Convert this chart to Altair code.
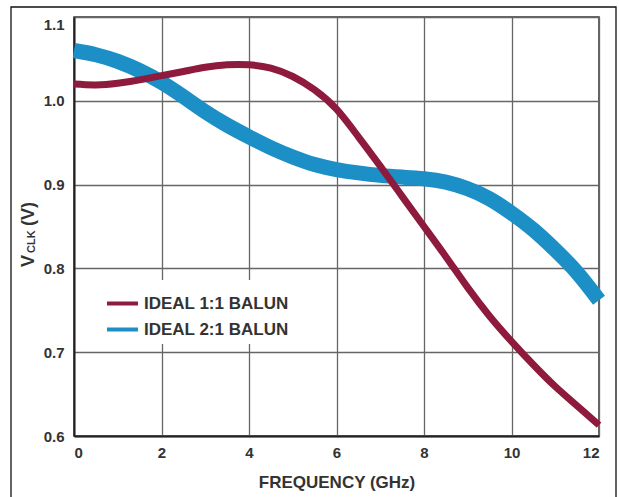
import altair as alt
import pandas as pd

freq = [0, 0.5, 1, 1.5, 2, 2.5, 3, 3.5, 4, 4.5, 5, 5.5, 6,
        6.5, 7, 7.5, 8, 8.5, 9, 9.5, 10, 10.5, 11, 11.5, 12]
v_balun_11 = [1.020, 1.019, 1.021, 1.025, 1.030, 1.035, 1.040, 1.043, 1.043, 1.039, 1.029, 1.013, 0.990,
              0.957, 0.922, 0.886, 0.850, 0.814, 0.777, 0.743, 0.713, 0.685, 0.659, 0.636, 0.613]
v_balun_21 = [1.060, 1.055, 1.047, 1.036, 1.022, 1.005, 0.987, 0.971, 0.957, 0.944, 0.933, 0.924, 0.918,
              0.914, 0.911, 0.909, 0.907, 0.903, 0.895, 0.883, 0.866, 0.846, 0.822, 0.795, 0.762]
series_names = ["IDEAL 1:1 BALUN", "IDEAL 2:1 BALUN"]
series_colors = ["#8E1A3D", "#1B8FC6"]
x_ticks = [0, 2, 4, 6, 8, 10, 12]
y_ticks = [0.6, 0.7, 0.8, 0.9, 1.0, 1.1]

FONT = "Liberation Sans"

df11 = pd.DataFrame({"f": freq, "v": v_balun_11, "s": series_names[0]})
df21 = pd.DataFrame({"f": freq, "v": v_balun_21, "s": series_names[1]})

x_enc = alt.X("f:Q", scale=alt.Scale(domain=[0, 12], nice=False),
              axis=alt.Axis(values=x_ticks, title="FREQUENCY (GHz)", format="d",
                            ticks=False, labelPadding=9, labelFontSize=15,
                            titleFontSize=17, titleBaseline="alphabetic", titleY=51))
y_enc = alt.Y("v:Q", scale=alt.Scale(domain=[0.6, 1.1], nice=False, zero=False),
              axis=alt.Axis(values=y_ticks, title=None, format=".1f", ticks=False,
                            labelPadding=10, labelFontSize=15,
                            labelBaseline=alt.expr("datum.value > 1.09 ? 'top' : 'middle'")))
color_scale = alt.Scale(domain=series_names, range=series_colors)
color_leg = alt.Color("s:N", scale=color_scale,
                      legend=alt.Legend(orient="none", legendX=25, legendY=263, title=None,
                                        symbolType="stroke", symbolSize=961,
                                        symbolStrokeWidth=4, labelFontSize=17,
                                        labelOffset=4, fillColor="white", padding=6,
                                        rowPadding=-16))
color_noleg = alt.Color("s:N", scale=color_scale, legend=None)

# legend carrier: a line layer that draws nothing (empty after filter)
legend_layer = alt.Chart(df11).mark_line(strokeWidth=4).encode(
    x=x_enc, y=y_enc, color=color_leg).transform_filter("datum.f < -1")
blue = alt.Chart(df21).mark_line(strokeWidth=15, interpolate="natural").encode(
    x=x_enc, y=y_enc, color=color_noleg)
red = alt.Chart(df11).mark_line(strokeWidth=7, interpolate="natural").encode(
    x=x_enc, y=y_enc, color=color_noleg)

one = pd.DataFrame({"k": [0]})
frame = alt.Chart(one).mark_rect(fill=None, stroke="#111", strokeWidth=1.3).encode(
    x=alt.value(-63), x2=alt.value(542), y=alt.value(-10), y2=alt.value(495))

tV = alt.Chart(one).mark_text(text="V", angle=270, align="left", baseline="alphabetic",
                              fontSize=18, font=FONT, fontWeight="bold", color="#333").encode(
    x=alt.value(-40), y=alt.value(250))
tCLK = alt.Chart(one).mark_text(text="CLK", angle=270, align="left", baseline="alphabetic",
                                fontSize=11, font=FONT, fontWeight="bold", color="#333").encode(
    x=alt.value(-39), y=alt.value(236))
tUnit = alt.Chart(one).mark_text(text="(V)", angle=270, align="left", baseline="alphabetic",
                                 fontSize=18, font=FONT, fontWeight="bold", color="#333").encode(
    x=alt.value(-40), y=alt.value(209))

chart = alt.layer(legend_layer, frame, blue, red, tV, tCLK, tUnit).properties(
    width=525, height=419,
    autosize=alt.AutoSizeParams(type="none"),
    padding={"left": 74, "top": 17, "right": 20, "bottom": 61},
    background="white",
).configure_view(stroke="#333", strokeWidth=1.5).configure_axis(
    gridColor="#666", gridWidth=1.3, gridOpacity=1,
    domainColor="#222", domainWidth=2,
    labelFont=FONT, labelFontWeight="bold", labelColor="#333",
    titleFont=FONT, titleFontWeight="bold", titleColor="#333",
).configure_legend(labelFont=FONT, labelFontWeight="bold", labelColor="#333")

chart.save("out.html", embed_options={"renderer": "svg", "actions": False})
